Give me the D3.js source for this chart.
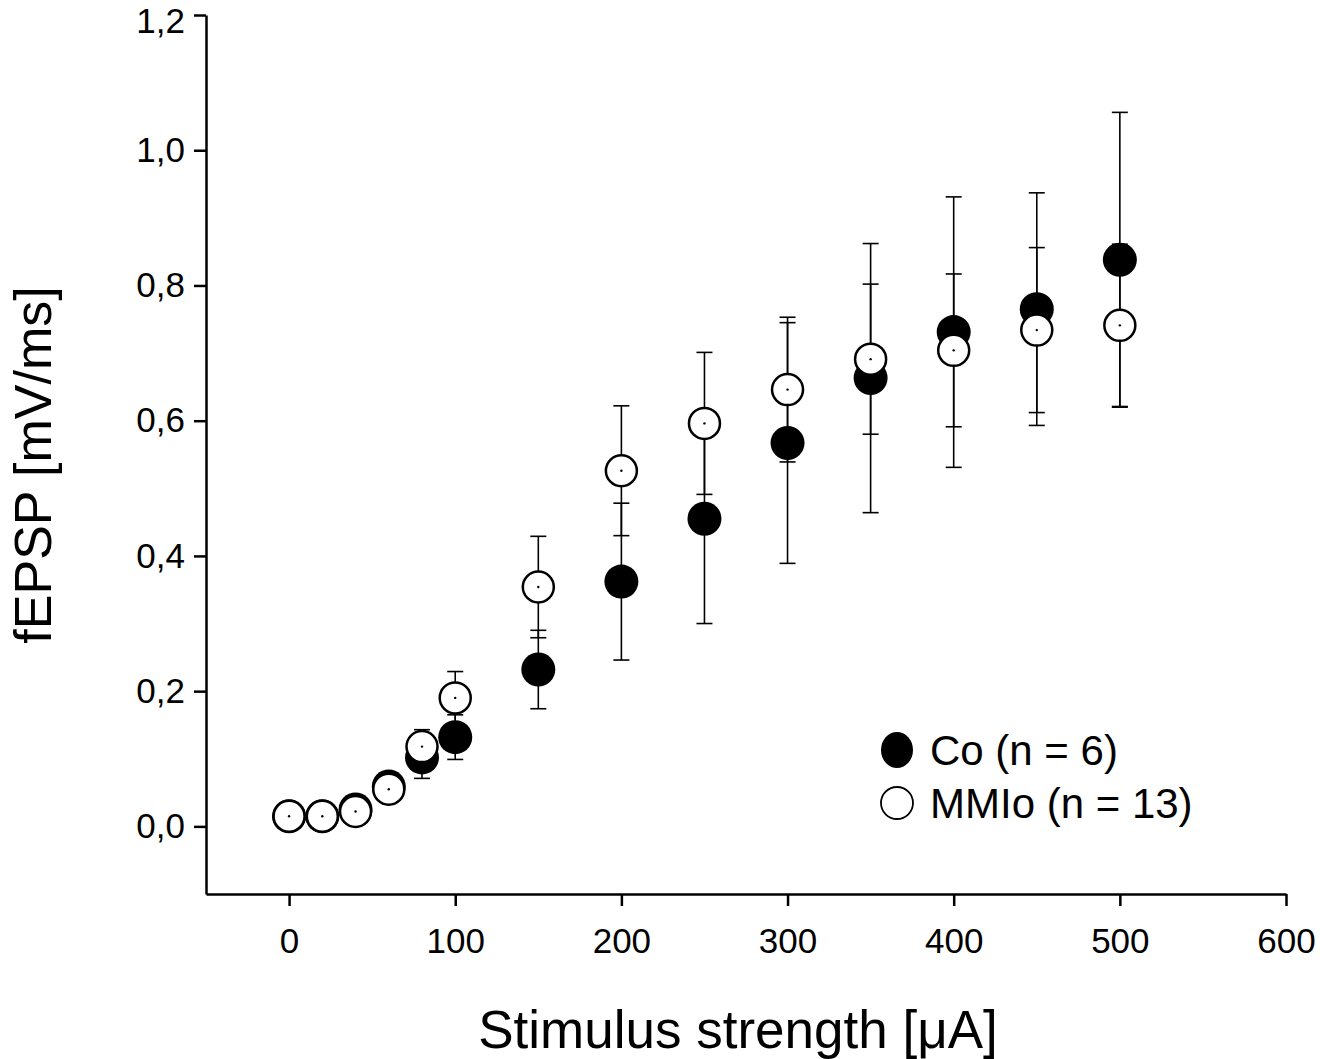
<!DOCTYPE html>
<html>
<head>
<meta charset="utf-8">
<script src="https://cdn.jsdelivr.net/npm/d3@7"></script>
<style>
  body { margin: 0; background: #fff; }
  svg text { font-family: "Liberation Sans", Arial, sans-serif; fill: #000; }
</style>
</head>
<body>
<svg id="chart" width="1320" height="1059"></svg>
<script>
// data
const stimulus = [0, 20, 40, 60, 80, 100, 150, 200, 250, 300, 350, 400, 450, 500];
const coMean = [0.015, 0.015, 0.025, 0.059, 0.102, 0.132, 0.232, 0.362, 0.455, 0.567, 0.663, 0.731, 0.765, 0.838];
const coSem = [0.003, 0.003, 0.006, 0.012, 0.031, 0.033, 0.058, 0.116, 0.155, 0.178, 0.199, 0.2, 0.172, 0.218];
const mmloMean = [0.015, 0.015, 0.022, 0.055, 0.118, 0.19, 0.354, 0.526, 0.596, 0.646, 0.691, 0.704, 0.734, 0.741];
const mmloSem = [0.003, 0.003, 0.006, 0.013, 0.025, 0.039, 0.075, 0.096, 0.105, 0.107, 0.111, 0.113, 0.122, 0.12];
const xTicks = [0, 100, 200, 300, 400, 500, 600];
const yTicks = [0, 0.2, 0.4, 0.6, 0.8, 1.0, 1.2];
const seriesNames = ["Co (n = 6)", "MMIo (n = 13)"];

const svg = d3.select("#chart");
const x = d3.scaleLinear().domain([-50, 600]).range([206, 1286]);
const y = d3.scaleLinear().domain([-0.1, 1.2]).range([894, 15]);
const fmt = d => d.toFixed(1).replace(".", ",");

// axes
const yAxis = svg.append("g")
  .attr("transform", "translate(206,0)")
  .call(d3.axisLeft(y).tickValues(yTicks).tickFormat(fmt).tickSize(12).tickSizeOuter(0).tickPadding(9));
const xAxis = svg.append("g")
  .attr("transform", "translate(0,894)")
  .call(d3.axisBottom(x).tickValues(xTicks).tickFormat(d3.format("d")).tickSize(12).tickSizeOuter(0).tickPadding(22));
[yAxis, xAxis].forEach(a => {
  a.select(".domain").attr("stroke", "#000").attr("stroke-width", 2.5);
  a.selectAll(".tick line").attr("stroke", "#000").attr("stroke-width", 2.5);
  a.selectAll(".tick text").style("font-size", "35px").attr("fill", "#000");
});
// top label sits a little lower so it stays inside the picture
yAxis.selectAll(".tick text").attr("dy", d => d === 1.2 ? "0.49em" : "0.32em");

// axis titles
svg.append("text")
  .attr("x", 738).attr("y", 1048)
  .attr("text-anchor", "middle")
  .style("font-size", "53px")
  .text("Stimulus strength [μA]");
svg.append("text")
  .attr("transform", "translate(51,465) rotate(-90)")
  .attr("text-anchor", "middle")
  .style("font-size", "52px")
  .text("fEPSP [mV/ms]");

const series = [
  { mean: coMean, sem: coSem, filled: true },
  { mean: mmloMean, sem: mmloSem, filled: false }
];

// error bars first, markers on top
const bars = svg.append("g").attr("stroke", "#000").attr("stroke-width", 1.6);
series.forEach(s => {
  stimulus.forEach((st, i) => {
    const cx = x(st), top = y(s.mean[i] + s.sem[i]), bot = y(s.mean[i] - s.sem[i]);
    bars.append("line").attr("x1", cx).attr("x2", cx).attr("y1", top).attr("y2", bot);
    bars.append("line").attr("x1", cx - 8).attr("x2", cx + 8).attr("y1", top).attr("y2", top);
    bars.append("line").attr("x1", cx - 8).attr("x2", cx + 8).attr("y1", bot).attr("y2", bot);
  });
});

series.forEach(s => {
  const g = svg.append("g");
  g.selectAll("circle")
    .data(stimulus)
    .enter()
    .append("circle")
    .attr("cx", d => x(d))
    .attr("cy", (d, i) => y(s.mean[i]))
    .attr("r", s.filled ? 17 : 15.5)
    .attr("fill", s.filled ? "#000" : "#fff")
    .attr("stroke", "#000")
    .attr("stroke-width", s.filled ? 0 : 2.5);
  if (!s.filled) {
    g.selectAll(".dot")
      .data(stimulus)
      .enter()
      .append("circle")
      .attr("class", "dot")
      .attr("cx", d => x(d))
      .attr("cy", (d, i) => y(s.mean[i]))
      .attr("r", 1.2)
      .attr("fill", "#000");
  }
});

// legend
const legend = svg.append("g").attr("transform", "translate(897,750)");
legend.append("ellipse").attr("cx", 0).attr("cy", 0).attr("rx", 16).attr("ry", 18).attr("fill", "#000");
legend.append("circle").attr("cx", 0).attr("cy", 53).attr("r", 16)
  .attr("fill", "#fff").attr("stroke", "#000").attr("stroke-width", 1.8);
legend.selectAll("text")
  .data(seriesNames)
  .enter()
  .append("text")
  .attr("x", 33)
  .attr("y", (d, i) => 15 + i * 53)
  .style("font-size", "42px")
  .text(d => d);
</script>
</body>
</html>
